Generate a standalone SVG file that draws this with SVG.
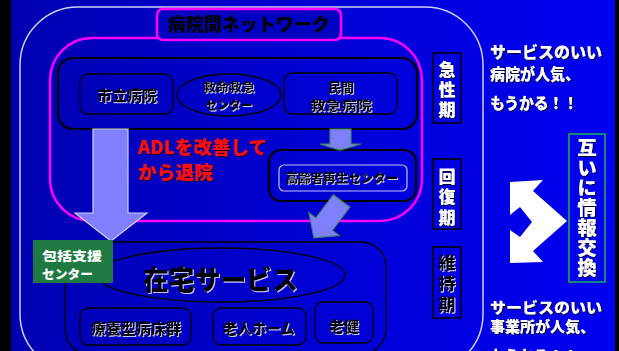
<svg xmlns="http://www.w3.org/2000/svg" width="619" height="351" viewBox="0 0 619 351">
<defs>
<linearGradient id="bg" x1="0" y1="0" x2="1" y2="0">
<stop offset="0" stop-color="#0000b0"/>
<stop offset="1" stop-color="#0000f2"/>
</linearGradient>
<filter id="shL" x="-10%" y="-20%" width="130%" height="150%"><feDropShadow dx="1" dy="1" stdDeviation="0" flood-color="#c8c8ff"/></filter>
<filter id="shD" x="-10%" y="-20%" width="130%" height="150%"><feDropShadow dx="1" dy="1" stdDeviation="0" flood-color="#000030"/></filter>
</defs>
<style>
text{font-family:"Noto Sans CJK JP","Noto Sans",sans-serif;font-weight:900}
.blk{fill:#000;filter:url(#shL)}
.wht{fill:#fff;filter:url(#shD)}
.vt{writing-mode:vertical-rl;text-anchor:start}
.box{fill:none;stroke:#000;stroke-width:1.3}
.grp{fill:none;stroke:#000;stroke-width:2.2}
.per{fill:none;stroke:#000;stroke-width:1.5}
.arr{fill:#8080ff;stroke:#3c8c5c;stroke-width:1.2}
</style>
<rect x="0" y="0" width="619" height="351" fill="url(#bg)"/>
<rect x="0" y="0" width="11" height="351" fill="#000"/>
<rect x="615" y="0" width="4" height="351" fill="#000"/>

<g id="outer">
<rect x="20" y="7" width="463" height="365" rx="58" fill="none" stroke="#d0d0ff" stroke-width="1.5"/>
</g>

<g id="network">
<rect x="50" y="38" width="372" height="183" rx="42" fill="none" stroke="#ff00ff" stroke-width="2.5"/>
</g>
<g id="title">
<rect x="157" y="9" width="184" height="31" rx="6" fill="#0000c0" stroke="#ff00ff" stroke-width="2.5"/>
<text x="249" y="31" font-size="18" text-anchor="middle" fill="#000">病院間ネットワーク</text>
</g>

<g id="acute-group">
<rect class="grp" x="58" y="58" width="359" height="71" rx="15"/>
</g>
<g id="shiritsu">
<rect class="box" x="80" y="74" width="93" height="40" rx="8"/>
<text class="blk" x="127" y="101" font-size="15" text-anchor="middle">市立病院</text>
</g>
<g id="kyumei">
<ellipse class="box" cx="229" cy="95" rx="52" ry="21"/>
<text class="blk" x="229" y="92" font-size="12" text-anchor="middle" textLength="52" lengthAdjust="spacingAndGlyphs">救命救急</text>
<text class="blk" x="229" y="110" font-size="12" text-anchor="middle" textLength="47" lengthAdjust="spacingAndGlyphs">センター</text>
</g>
<g id="minkan">
<rect class="box" x="284" y="73" width="113" height="41" rx="8"/>
<text class="blk" x="341" y="92" font-size="13" text-anchor="middle">民間</text>
<text class="blk" x="341" y="110" font-size="13" text-anchor="middle" textLength="62" lengthAdjust="spacingAndGlyphs">救急病院</text>
</g>

<g id="koreisha">
<rect class="grp" x="269" y="150" width="147" height="51" rx="12"/>
<rect x="279" y="165" width="128" height="26" rx="5" fill="none" stroke="#c0c0ff" stroke-width="1.2"/>
<text class="blk" x="342" y="183" font-size="12.5" text-anchor="middle">高齢者再生センター</text>
</g>

<g id="adl-label">
<text x="138" y="154" font-size="18.5" fill="#ff1010" filter="url(#shD)" textLength="129" lengthAdjust="spacingAndGlyphs">ADLを改善して</text>
<text x="138" y="179" font-size="18.5" fill="#ff1010" filter="url(#shD)" textLength="75" lengthAdjust="spacingAndGlyphs">から退院</text>
</g>

<g id="acute-phase">
<rect class="per" x="433" y="53" width="28" height="70"/>
<text class="wht vt" x="447" y="61" font-size="17" letter-spacing="3">急性期</text>
</g>
<g id="recovery-phase">
<rect class="per" x="433" y="159" width="28" height="70"/>
<text class="wht vt" x="447" y="168" font-size="17" letter-spacing="3.5">回復期</text>
</g>
<g id="maintenance-phase">
<rect class="per" x="433" y="247" width="28" height="71"/>
<text class="blk vt" x="447" y="254" font-size="17" letter-spacing="4">維持期</text>
</g>

<g id="home-group">
<rect x="65" y="242" width="321" height="112" rx="25" fill="none" stroke="#000" stroke-width="1.3"/>
</g>
<g id="zaitaku">
<ellipse cx="221" cy="275" rx="124" ry="27" fill="none" stroke="#000" stroke-width="1.3"/>
<text class="blk" x="143" y="290" font-size="27" textLength="155" lengthAdjust="spacingAndGlyphs">在宅サービス</text>
</g>
<g id="ryoyo">
<rect class="box" x="80" y="308" width="111" height="37" rx="8"/>
<text class="blk" x="136" y="334" font-size="15" text-anchor="middle">療養型病床群</text>
</g>
<g id="rojin">
<rect class="box" x="213" y="308" width="93" height="37" rx="8"/>
<text class="blk" x="259" y="334" font-size="14.5" text-anchor="middle">老人ホーム</text>
</g>
<g id="roken">
<rect class="box" x="315" y="302" width="58" height="41" rx="8"/>
<text class="blk" x="344" y="332" font-size="15" text-anchor="middle">老健</text>
</g>

<g id="connectors">
<polygon points="93,129 128,129 128,213 147,213 111,241 75,213 93,213" fill="#8080ff" stroke="#d0d0ff" stroke-width="1.2"/>
<polygon class="arr" points="330,129 351,129 351,144 361,144 340,150 320,144 330,144"/>
<polygon class="arr" points="333.2,194.8 349.8,207.2 332.4,230.4 339.3,235.6 313.9,237.8 308.9,212.8 315.8,218"/>
<polygon points="510,182 543,180 533,191 567,221 533,251 543,262 510,263 510,230 520,237 532,222 520,207 510,215" fill="#fff"/>
</g>

<g id="houkatsu">
<rect x="33" y="240" width="80" height="43" fill="#1e7a40"/>
<text x="42" y="261" font-size="12.5" fill="#fff" textLength="60" lengthAdjust="spacingAndGlyphs">包括支援</text>
<text x="42" y="279" font-size="12.5" fill="#fff" textLength="51" lengthAdjust="spacingAndGlyphs">センター</text>
</g>

<g id="exchange">
<rect x="569" y="134" width="36" height="148" fill="none" stroke="#20d040" stroke-width="1.3"/>
<text class="wht vt" x="587" y="138" font-size="19.5" letter-spacing="0.5">互いに情報交換</text>
</g>

<g id="notes">
<text class="wht" x="490" y="58" font-size="16" textLength="112" lengthAdjust="spacingAndGlyphs">サービスのいい</text>
<text class="wht" x="490" y="80" font-size="16" textLength="90" lengthAdjust="spacingAndGlyphs">病院が人気、</text>
<text class="wht" x="490" y="109" font-size="16" textLength="88" lengthAdjust="spacingAndGlyphs">もうかる！！</text>
<text class="wht" x="490" y="313" font-size="14.5" textLength="112" lengthAdjust="spacingAndGlyphs">サービスのいい</text>
<text class="wht" x="490" y="332" font-size="14.5" textLength="105" lengthAdjust="spacingAndGlyphs">事業所が人気、</text>
<text class="wht" x="490" y="362" font-size="16" textLength="88" lengthAdjust="spacingAndGlyphs">もうかる！！</text>
</g>
</svg>
